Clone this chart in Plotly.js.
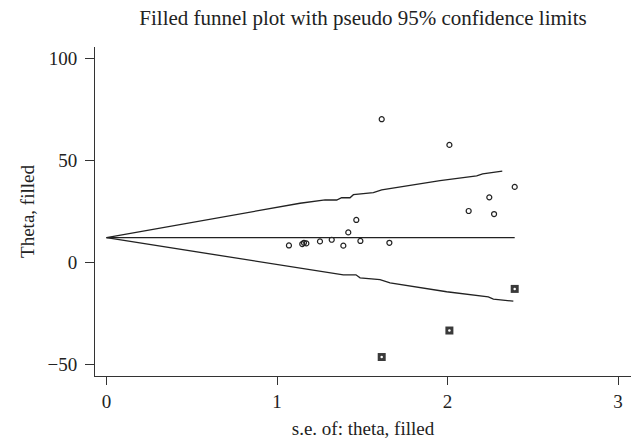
<!DOCTYPE html>
<html>
<head>
<meta charset="utf-8">
<script src="https://cdn.plot.ly/plotly-3.0.1.min.js"></script>
<style>html,body{margin:0;padding:0;background:#fff;}#chart{width:635px;height:442px;}</style>
</head>
<body>
<div id="chart"></div>
<script>
// Observed studies (open circles)
const seObserved = [1.070, 1.148, 1.158, 1.172, 1.252, 1.321, 1.389, 1.418, 1.465, 1.489, 1.614, 1.659, 2.011, 2.124, 2.245, 2.273, 2.394];
const thetaObserved = [8.5, 9.2, 9.8, 9.5, 10.5, 11.3, 8.4, 14.9, 21.0, 10.7, 70.4, 9.8, 57.8, 25.4, 32.1, 23.9, 37.2];
// Imputed (filled) studies
const seFilled = [1.614, 2.011, 2.394];
const thetaFilled = [-46.2, -33.2, -12.8];
// Pooled estimate line
const pooledSe = [0, 2.394];
const pooledTheta = [12.3, 12.3];
// Pseudo 95% confidence limits
const upperSe = [0, 1.135, 1.282, 1.350, 1.379, 1.428, 1.448, 1.565, 1.614, 1.956, 2.171, 2.206, 2.321];
const upperTheta = [12.3, 29.2, 30.8, 30.8, 31.9, 31.9, 33.4, 34.4, 35.7, 40.3, 42.6, 43.6, 44.9];
const lowerSe = [0, 1.135, 1.389, 1.463, 1.487, 1.604, 1.663, 1.995, 2.239, 2.269, 2.386];
const lowerTheta = [12.3, -2.6, -5.9, -5.9, -7.4, -8.2, -9.8, -14.2, -16.7, -17.8, -18.8];
// Ticks
const xTickVals = [0, 1, 2, 3];
const xTickText = ['0', '1', '2', '3'];
const yTickVals = [-50, 0, 50, 100];
const yTickText = ['\u221250', '0', '50', '100'];

const ink = '#222';
const lineStyle = {color: ink, width: 1.3};
const traces = [
  {x: upperSe, y: upperTheta, mode: 'lines', line: lineStyle, hoverinfo: 'skip'},
  {x: lowerSe, y: lowerTheta, mode: 'lines', line: lineStyle, hoverinfo: 'skip'},
  {x: pooledSe, y: pooledTheta, mode: 'lines', line: lineStyle, hoverinfo: 'skip'},
  {x: seObserved, y: thetaObserved, mode: 'markers',
   marker: {symbol: 'circle-open', size: 5, color: ink, line: {width: 1.2, color: ink}}},
  {x: seFilled, y: thetaFilled, mode: 'markers',
   marker: {symbol: 'square', size: 8, color: '#3a3a3a', line: {width: 0}}},
  {x: seFilled, y: thetaFilled, mode: 'markers',
   marker: {symbol: 'circle', size: 2.5, color: '#fff', line: {width: 0}}}
];
const fontFam = '"Liberation Serif", "DejaVu Serif", serif';
const layout = {
  width: 635, height: 442,
  margin: {l: 95, r: 4, t: 47, b: 66, pad: 0},
  paper_bgcolor: '#fff', plot_bgcolor: '#fff',
  showlegend: false,
  font: {family: fontFam, color: '#222', size: 19},
  title: {text: 'Filled funnel plot with pseudo 95% confidence limits',
          font: {family: fontFam, size: 21, color: '#222'},
          x: 0.5, xref: 'paper', xanchor: 'center',
          y: 1 - 18 / 442, yref: 'container', yanchor: 'middle'},
  xaxis: {range: [-0.0674, 3.076], tickmode: 'array', tickvals: xTickVals, ticktext: xTickText,
          showline: true, linecolor: '#333', linewidth: 1, ticks: 'outside', ticklen: 8,
          tickcolor: '#333', tickwidth: 1, showgrid: false, zeroline: false,
          tickfont: {family: fontFam, size: 19, color: '#222'},
          title: {text: 's.e. of: theta, filled', font: {family: fontFam, size: 19, color: '#222'}, standoff: 10}},
  yaxis: {range: [-55.5, 105.8], tickmode: 'array', tickvals: yTickVals, ticktext: yTickText,
          showline: true, linecolor: '#333', linewidth: 1, ticks: 'outside', ticklen: 9,
          tickcolor: '#333', tickwidth: 1, showgrid: false, zeroline: false,
          tickfont: {family: fontFam, size: 19, color: '#222'}, ticklabelstandoff: 4,
          title: {text: 'Theta, filled', font: {family: fontFam, size: 19, color: '#222'}, standoff: 7}}
};
Plotly.newPlot('chart', traces, layout, {staticPlot: true, displayModeBar: false});
</script>
</body>
</html>
